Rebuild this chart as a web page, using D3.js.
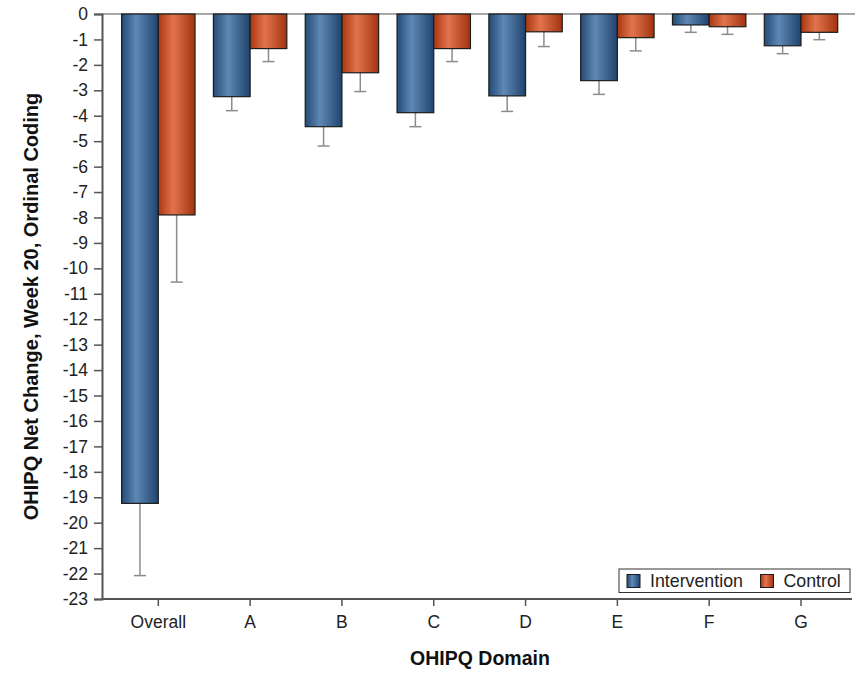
<!DOCTYPE html>
<html>
<head>
<meta charset="utf-8">
<script src="https://cdn.jsdelivr.net/npm/d3@7"></script>
<style>
  body { margin: 0; background: #fff; }
  svg { display: block; font-family: "Liberation Sans", Arial, sans-serif; }
</style>
</head>
<body>
<svg id="chart" width="855" height="673"></svg>
<script>
// OHIPQ net change at week 20 by domain (ordinal coding)
const categories = ["Overall", "A", "B", "C", "D", "E", "F", "G"];
const seriesNames = ["Intervention", "Control"];
const interventionMean = [-19.24, -3.25, -4.43, -3.88, -3.22, -2.62, -0.43, -1.25];
const interventionLower = [-22.08, -3.80, -5.19, -4.43, -3.83, -3.16, -0.72, -1.56];
const controlMean = [-7.90, -1.36, -2.31, -1.36, -0.70, -0.93, -0.50, -0.72];
const controlLower = [-10.54, -1.87, -3.05, -1.87, -1.28, -1.45, -0.80, -1.01];
const yTicks = d3.range(0, -24, -1);

const svg = d3.select("#chart");
const axisX0 = 102, axisX1 = 852, plotTop = 14, plotBottom = 599;
const tickFont = 17.5, titleFont = 19.5;

const x = d3.scaleBand().domain(categories).range([112.4, 846.9]).paddingInner(0).paddingOuter(0);
const sub = d3.scaleBand().domain(seriesNames).range([x.bandwidth() / 2 - 36.7, x.bandwidth() / 2 + 36.7]);
const y = d3.scaleLinear().domain([0, -23]).range([plotTop, plotBottom]);

// gradients giving the bars a cylindrical shading
const defs = svg.append("defs");
const shades = {
  Intervention: ["#244a76", "#5f88b5", "#1f436c"],
  Control: ["#a9370f", "#e2744d", "#a23310"]
};
Object.entries(shades).forEach(([name, c]) => {
  const g = defs.append("linearGradient").attr("id", "grad-" + name)
    .attr("x1", "0%").attr("x2", "100%").attr("y1", "0%").attr("y2", "0%");
  g.append("stop").attr("offset", "0%").attr("stop-color", c[0]);
  g.append("stop").attr("offset", "40%").attr("stop-color", c[1]);
  g.append("stop").attr("offset", "100%").attr("stop-color", c[2]);
});

const rows = categories.map((cat, i) => ({
  cat,
  values: [
    { series: "Intervention", mean: interventionMean[i], lower: interventionLower[i] },
    { series: "Control", mean: controlMean[i], lower: controlLower[i] }
  ]
}));

// zero reference line along the top
svg.append("line").attr("x1", axisX0).attr("x2", 855).attr("y1", y(0)).attr("y2", y(0))
  .attr("stroke", "#8a8a8a").attr("stroke-width", 1.5);

const groups = svg.append("g").selectAll("g").data(rows).join("g")
  .attr("transform", d => `translate(${x(d.cat)},0)`);

// error bars (drawn first so the bar sits above the stem)
groups.selectAll("g.err").data(d => d.values).join("g").attr("class", "err")
  .each(function(d) {
    const g = d3.select(this);
    const cx = sub(d.series) + sub.bandwidth() / 2;
    g.append("line").attr("x1", cx).attr("x2", cx).attr("y1", y(d.mean)).attr("y2", y(d.lower))
      .attr("stroke", "#8c8c8c").attr("stroke-width", 1.5);
    g.append("line").attr("x1", cx - 6).attr("x2", cx + 6).attr("y1", y(d.lower)).attr("y2", y(d.lower))
      .attr("stroke", "#8c8c8c").attr("stroke-width", 1.5);
  });

groups.selectAll("rect").data(d => d.values).join("rect")
  .attr("x", d => sub(d.series))
  .attr("width", sub.bandwidth())
  .attr("y", y(0))
  .attr("height", d => y(d.mean) - y(0))
  .attr("fill", d => `url(#grad-${d.series})`)
  .attr("stroke", "#1c1c1c").attr("stroke-width", 1.2);

// y axis (plain hyphen-minus labels)
const yAxis = svg.append("g").attr("transform", `translate(${axisX0},0)`)
  .call(d3.axisLeft(y).tickValues(yTicks).tickFormat(d => String(d)).tickSize(8).tickPadding(6));
yAxis.attr("font-size", null).attr("font-family", null);
yAxis.select(".domain").attr("stroke", "#555").attr("stroke-width", 2);
yAxis.selectAll(".tick line").attr("stroke", "#555").attr("stroke-width", 1.5);
yAxis.selectAll(".tick text").style("font-size", tickFont + "px").attr("fill", "#222");

// x axis
const xAxis = svg.append("g").attr("transform", `translate(0,${plotBottom})`)
  .call(d3.axisBottom(x).tickSize(7).tickPadding(10).tickSizeOuter(0));
xAxis.attr("font-size", null).attr("font-family", null);
xAxis.select(".domain").attr("d", `M${axisX0},0H${axisX1}`).attr("stroke", "#555").attr("stroke-width", 2);
xAxis.selectAll(".tick line").attr("stroke", "#555").attr("stroke-width", 1.5);
xAxis.selectAll(".tick text").style("font-size", tickFont + "px").attr("fill", "#222");

// axis titles
svg.append("text").attr("x", 480).attr("y", 665).attr("text-anchor", "middle")
  .style("font-size", titleFont + "px").attr("font-weight", "bold").attr("fill", "#111").text("OHIPQ Domain");
svg.append("text").attr("transform", `translate(38,${(plotTop + plotBottom) / 2}) rotate(-90)`)
  .attr("text-anchor", "middle").style("font-size", "20px").attr("font-weight", "bold").attr("fill", "#111")
  .text("OHIPQ Net Change, Week 20, Ordinal Coding");

// legend
const legend = svg.append("g");
legend.append("rect").attr("x", 619).attr("y", 569).attr("width", 231).attr("height", 23.5)
  .attr("fill", "#fff").attr("stroke", "#333").attr("stroke-width", 1);
const legendItems = [{ name: "Intervention", x: 627 }, { name: "Control", x: 760.5 }];
legendItems.forEach(it => {
  legend.append("rect").attr("x", it.x).attr("y", 574.5).attr("width", 13).attr("height", 13)
    .attr("fill", `url(#grad-${it.name})`).attr("stroke", "#1c1c1c").attr("stroke-width", 1);
  legend.append("text").attr("x", it.x + 23).attr("y", 587).style("font-size", "17.8px").attr("fill", "#222")
    .text(it.name);
});
</script>
</body>
</html>
